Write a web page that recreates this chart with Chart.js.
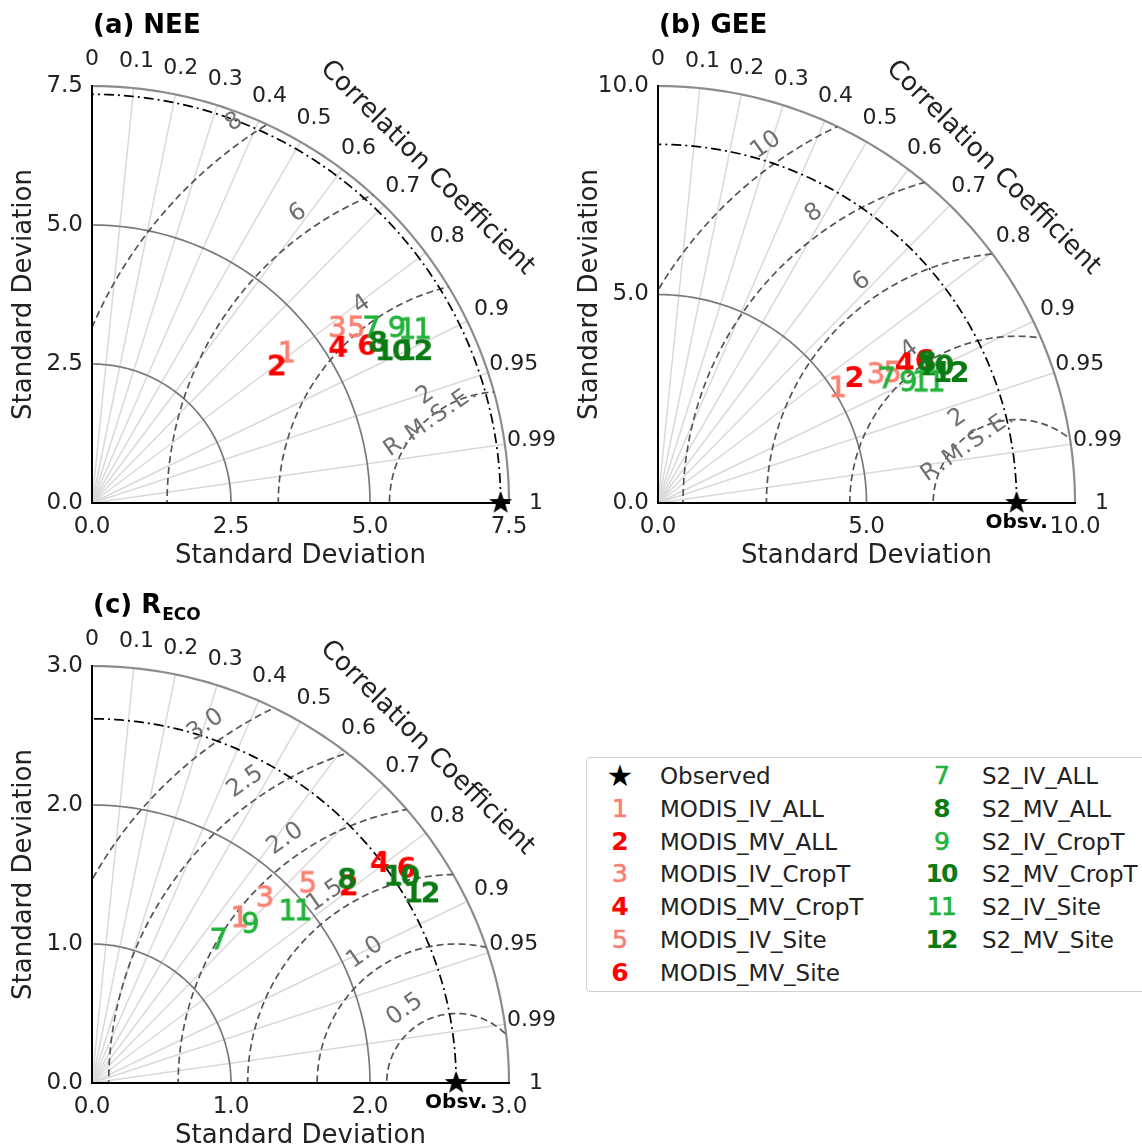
<!DOCTYPE html>
<html>
<head>
<meta charset="utf-8">
<script src="https://cdn.jsdelivr.net/npm/chart.js@4.4.1/dist/chart.umd.min.js"></script>
<style>
html, body { margin: 0; padding: 0; background: #fff; overflow: hidden; width: 1142px; height: 1148px; }
canvas { position: absolute; }
#legend { position: absolute; left: 586px; top: 757px; width: 580px; height: 235px; border: 1px solid #cfcfcf;
          border-radius: 4px; box-sizing: border-box; font-family: "DejaVu Sans", sans-serif; }
.lm { position: absolute; width: 44px; text-align: center; font-size: 25px; line-height: 26px; letter-spacing: -2px; }
.lt { position: absolute; font-size: 23px; line-height: 26px; color: #222; white-space: nowrap; }
</style>
</head>
<body>
<canvas id="nee" width="566" height="580" style="left:0;top:0"></canvas>
<canvas id="gee" width="576" height="580" style="left:566px;top:0"></canvas>
<canvas id="reco" width="566" height="580" style="left:0;top:580px"></canvas>
<div id="legend"></div>
<script>
const FONT = '"DejaVu Sans", sans-serif';

// models 1..12
const modelLabels = ['1', '2', '3', '4', '5', '6', '7', '8', '9', '10', '11', '12'];
const modelNames = ['MODIS_IV_ALL', 'MODIS_MV_ALL', 'MODIS_IV_CropT', 'MODIS_MV_CropT', 'MODIS_IV_Site', 'MODIS_MV_Site',
                    'S2_IV_ALL', 'S2_MV_ALL', 'S2_IV_CropT', 'S2_MV_CropT', 'S2_IV_Site', 'S2_MV_Site'];
const modelColors = ['#fa8072', '#ff0000', '#fa8072', '#ff0000', '#fa8072', '#ff0000',
                     '#22b33a', '#0a7a12', '#22b33a', '#0a7a12', '#22b33a', '#0a7a12'];
const modelBold = [false, true, false, true, false, true, false, true, false, true, false, true];

const corrTicks = [0, 0.1, 0.2, 0.3, 0.4, 0.5, 0.6, 0.7, 0.8, 0.9, 0.95, 0.99, 1];
const corrLines = [0.1, 0.2, 0.3, 0.4, 0.5, 0.6, 0.7, 0.8, 0.9, 0.95, 0.99];

// (a) NEE
const neeObs = 7.35;
const neeStd = [4.43, 4.14, 5.43, 5.24, 5.71, 5.70, 5.94, 5.90, 6.33, 6.07, 6.60, 6.42];
const neeCorr = [0.789, 0.800, 0.811, 0.843, 0.831, 0.866, 0.845, 0.870, 0.865, 0.891, 0.879, 0.903];
const neeRings = [2.5, 5.0];
const neeRmse = [2, 4, 6, 8];

// (b) GEE
const geeObs = 8.6;
const geeStd = [5.13, 5.59, 6.08, 6.79, 6.44, 7.25, 6.25, 7.28, 6.67, 7.43, 7.11, 7.69];
const geeCorr = [0.838, 0.840, 0.858, 0.869, 0.872, 0.880, 0.876, 0.884, 0.898, 0.895, 0.911, 0.912];
const geeRings = [5.0];
const geeRmse = [2, 4, 6, 8, 10];

// (c) RECO
const recoObs = 2.62;
const recoStd = [1.60, 2.33, 1.83, 2.61, 2.12, 2.74, 1.38, 2.35, 1.62, 2.68, 1.92, 2.74];
const recoCorr = [0.662, 0.791, 0.678, 0.792, 0.731, 0.824, 0.658, 0.779, 0.701, 0.830, 0.760, 0.865];
const recoRings = [1.0, 2.0];
const recoRmse = [0.5, 1.0, 1.5, 2.0, 2.5, 3.0];

function textMarker(txt, color, bold, size) {
    const c = document.createElement('canvas');
    let g = c.getContext('2d');
    const f = (bold ? 'bold ' : '') + size + 'px ' + FONT;
    g.font = f;
    g.letterSpacing = '-3px';
    const w = Math.ceil(g.measureText(txt).width) + 6;
    c.width = w;
    c.height = size + 8;
    g = c.getContext('2d');
    g.font = f;
    g.letterSpacing = '-3px';
    g.fillStyle = color;
    g.strokeStyle = color;
    g.lineWidth = 0.8;
    g.textAlign = 'center';
    g.textBaseline = 'alphabetic';
    g.fillText(txt, w / 2 - 1, c.height / 2 + size * 0.36);
    if (!bold) g.strokeText(txt, w / 2 - 1, c.height / 2 + size * 0.36);
    return c;
}

function starMarker(r) {
    const c = document.createElement('canvas');
    c.width = c.height = 2 * r + 2;
    const g = c.getContext('2d');
    g.fillStyle = '#000';
    g.beginPath();
    for (let k = 0; k < 10; k++) {
        const rr = k % 2 ? r * 0.42 : r;
        const a = -Math.PI / 2 + k * Math.PI / 5;
        g.lineTo(r + 1 + rr * Math.cos(a), r + 1 + rr * Math.sin(a));
    }
    g.closePath();
    g.fill();
    return c;
}

const markerImgs = modelLabels.map((t, i) => textMarker(t, modelColors[i], modelBold[i], 29));
const starImg = starMarker(12);

function taylorPlugin(spec) {
    return {
        id: 'taylor',
        beforeDraw(chart) {
            const ctx = chart.ctx;
            const xs = chart.scales.x, ys = chart.scales.y;
            const R = spec.max;
            const P = (a, b) => [xs.getPixelForValue(a), ys.getPixelForValue(b)];
            const pxPerUnit = xs.getPixelForValue(1) - xs.getPixelForValue(0);

            function arc(cx, r, t0, t1, n) {
                ctx.beginPath();
                for (let k = 0; k <= n; k++) {
                    const t = t0 + (t1 - t0) * k / n;
                    const p = P(cx + r * Math.cos(t), r * Math.sin(t));
                    if (k) ctx.lineTo(p[0], p[1]); else ctx.moveTo(p[0], p[1]);
                }
                ctx.stroke();
            }

            ctx.save();
            // radial correlation lines
            ctx.strokeStyle = '#d9d9d9';
            ctx.lineWidth = 1.5;
            corrLines.forEach(c => {
                const th = Math.acos(c);
                const o = P(0, 0), e = P(R * Math.cos(th), R * Math.sin(th));
                ctx.beginPath();
                ctx.moveTo(o[0], o[1]);
                ctx.lineTo(e[0], e[1]);
                ctx.stroke();
            });
            // std rings
            ctx.strokeStyle = '#7a7a7a';
            ctx.lineWidth = 1.7;
            spec.rings.forEach(r => arc(0, r, 0, Math.PI / 2, 90));
            ctx.strokeStyle = '#8c8c8c';
            ctx.lineWidth = 2.2;
            arc(0, R, 0, Math.PI / 2, 120);

            // RMSE contours clipped to the quarter disc
            ctx.save();
            ctx.beginPath();
            const o = P(0, 0);
            ctx.moveTo(o[0], o[1]);
            for (let k = 0; k <= 120; k++) {
                const t = Math.PI / 2 * k / 120;
                const p = P(R * Math.cos(t), R * Math.sin(t));
                ctx.lineTo(p[0], p[1]);
            }
            ctx.closePath();
            ctx.clip();
            ctx.strokeStyle = '#555';
            ctx.lineWidth = 1.7;
            ctx.setLineDash([7, 4]);
            spec.rmse.forEach(r => arc(spec.obs, r, 0, Math.PI, 180));
            ctx.restore();

            // observed std arc
            ctx.strokeStyle = '#000';
            ctx.lineWidth = 1.7;
            ctx.setLineDash([10, 4, 2, 4]);
            arc(0, spec.obs, 0, Math.PI / 2, 120);
            ctx.setLineDash([]);

            // correlation tick labels
            ctx.fillStyle = '#222';
            ctx.font = '22px ' + FONT;
            ctx.textAlign = 'center';
            ctx.textBaseline = 'middle';
            corrTicks.forEach(c => {
                const th = Math.acos(c);
                const e = P(R * Math.cos(th), R * Math.sin(th));
                ctx.fillText(String(c), e[0] + 27 * Math.cos(th), e[1] - 27 * Math.sin(th));
            });
            // axis title along the arc
            const rr = R * pxPerUnit + 57;
            ctx.save();
            ctx.translate(o[0] + rr * Math.SQRT1_2, o[1] - rr * Math.SQRT1_2);
            ctx.rotate(Math.PI / 4);
            ctx.font = '26px ' + FONT;
            ctx.fillText('Correlation Coefficient', 0, 0);
            ctx.restore();

            // RMSE contour labels
            ctx.fillStyle = '#707070';
            ctx.font = '24px ' + FONT;
            const la = 125 * Math.PI / 180;
            spec.rmse.forEach(r => {
                const p = P(spec.obs + r * Math.cos(la), r * Math.sin(la));
                ctx.save();
                ctx.translate(p[0] + 20 * Math.cos(la), p[1] - 20 * Math.sin(la));
                ctx.rotate(-35 * Math.PI / 180);
                ctx.fillText(spec.rmseFmt(r), 0, 0);
                ctx.restore();
            });
            if (spec.rmseText) {
                const a = 130 * Math.PI / 180;
                const p = P(spec.obs + spec.rmseText * Math.cos(a), spec.rmseText * Math.sin(a));
                ctx.save();
                ctx.translate(p[0], p[1]);
                ctx.rotate(-35 * Math.PI / 180);
                ctx.font = '23px ' + FONT;
                ctx.letterSpacing = '2px';
                ctx.fillText('R.M.S.E.', 0, 0);
                ctx.restore();
            }

            // panel title
            ctx.fillStyle = '#000';
            ctx.textAlign = 'left';
            ctx.textBaseline = 'alphabetic';
            ctx.font = 'bold 26px ' + FONT;
            const tx = chart.chartArea.left + 1;
            ctx.fillText(spec.title, tx, 33);
            if (spec.sub) {
                const w = ctx.measureText(spec.title).width;
                ctx.font = 'bold 17px ' + FONT;
                ctx.fillText(spec.sub, tx + w + 1, 40);
            }
            // observed label
            if (spec.obsLabel) {
                const s = P(spec.obs, 0);
                ctx.font = 'bold 20px ' + FONT;
                ctx.textAlign = 'center';
                ctx.textBaseline = 'middle';
                ctx.fillText('Obsv.', s[0], s[1] + 20);
            }
            ctx.restore();
        }
    };
}

function makePanel(spec) {
    const datasets = [{
        label: 'Observed',
        data: [{ x: spec.obs, y: 0 }],
        pointStyle: starImg,
        pointRadius: 12,
        clip: false,
        order: 0
    }];
    for (let i = 0; i < modelLabels.length; i++) {
        const th = Math.acos(spec.corr[i]);
        datasets.push({
            label: modelNames[i],
            data: [{ x: spec.std[i] * Math.cos(th), y: spec.std[i] * Math.sin(th) }],
            pointStyle: markerImgs[i],
            pointRadius: 10,
            clip: false,
            order: 12 - i
        });
    }
    const tickFont = { family: FONT, size: 23 };
    const titleFont = { family: FONT, size: 26 };
    new Chart(document.getElementById(spec.id), {
        type: 'scatter',
        data: { datasets: datasets },
        options: {
            responsive: false,
            animation: false,
            events: [],
            layout: { padding: { left: 0, top: 86, right: spec.padRight, bottom: 0 } },
            plugins: { legend: { display: false }, tooltip: { enabled: false } },
            scales: {
                x: {
                    type: 'linear', min: 0, max: spec.max,
                    grid: { display: false, drawTicks: false },
                    border: { display: true, color: '#000', width: 2 },
                    ticks: { stepSize: spec.step, autoSkip: false, maxRotation: 0, padding: 10, color: '#222',
                             font: tickFont, callback: v => v.toFixed(1) },
                    title: { display: true, text: 'Standard Deviation', color: '#222', font: titleFont,
                             padding: { top: 0, bottom: 8 } },
                    afterFit: s => { s.height = 77; }
                },
                y: {
                    type: 'linear', min: 0, max: spec.max,
                    grid: { display: false, drawTicks: false },
                    border: { display: true, color: '#000', width: 2 },
                    ticks: { stepSize: spec.step, autoSkip: false, padding: 9, color: '#222',
                             font: tickFont, callback: v => v.toFixed(1) },
                    title: { display: true, text: 'Standard Deviation', color: '#222', font: titleFont,
                             padding: { top: 9, bottom: 0 } },
                    afterFit: s => { s.width = 92; }
                }
            }
        },
        plugins: [taylorPlugin(spec)]
    });
}

makePanel({ id: 'nee', title: '(a) NEE', sub: '', max: 7.5, step: 2.5, padRight: 57, obs: neeObs,
            std: neeStd, corr: neeCorr, rings: neeRings, rmse: neeRmse, rmseFmt: r => String(r),
            rmseText: 1.94, obsLabel: false });
makePanel({ id: 'gee', title: '(b) GEE', sub: '', max: 10, step: 5, padRight: 67, obs: geeObs,
            std: geeStd, corr: geeCorr, rings: geeRings, rmse: geeRmse, rmseFmt: r => String(r),
            rmseText: 1.8, obsLabel: true });
makePanel({ id: 'reco', title: '(c) R', sub: 'ECO', max: 3, step: 1, padRight: 57, obs: recoObs,
            std: recoStd, corr: recoCorr, rings: recoRings, rmse: recoRmse, rmseFmt: r => r.toFixed(1),
            rmseText: 0, obsLabel: true });

// legend
const legend = document.getElementById('legend');
function legendItem(col, row, marker, color, bold, text, size) {
    const top = 5 + row * 32.8;
    const m = document.createElement('div');
    m.className = 'lm';
    m.style.left = (col ? 332 : 10) + 'px';
    m.style.top = top + 'px';
    m.style.color = color;
    m.style.fontWeight = bold ? 'bold' : 'normal';
    if (size) m.style.fontSize = size + 'px';
    if (!bold && !size) m.style.webkitTextStroke = '0.6px ' + color;
    m.textContent = marker;
    legend.appendChild(m);
    const t = document.createElement('div');
    t.className = 'lt';
    t.style.left = (col ? 395 : 73) + 'px';
    t.style.top = top + 'px';
    t.textContent = text;
    legend.appendChild(t);
}
legendItem(0, 0, '\u2605', '#000', false, 'Observed', 30);
modelNames.forEach((n, i) => {
    const col = i < 6 ? 0 : 1;
    const row = i < 6 ? i + 1 : i - 6;
    legendItem(col, row, modelLabels[i], modelColors[i], modelBold[i], n);
});
</script>
</body>
</html>
